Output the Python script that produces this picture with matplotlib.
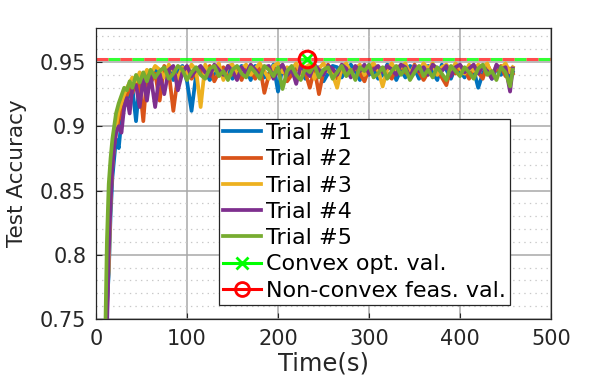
import matplotlib
matplotlib.use("Agg")
import matplotlib.pyplot as plt
from matplotlib.lines import Line2D
from matplotlib.ticker import MultipleLocator, FixedLocator, FuncFormatter

# time stamps (s)
t = [8, 10, 12, 14, 16, 18, 20, 22, 25, 28, 31, 34, 37, 40, 44, 48, 52, 56, 60,
     65, 70, 75, 80, 85, 90, 95, 100, 105, 110,
     115, 120, 125, 130, 135, 140, 145, 150, 155, 160,
     165, 170, 175, 180, 185, 190, 195, 200, 205, 210,
     215, 220, 225, 230, 235, 240, 245, 250, 255, 260,
     265, 270, 275, 280, 285, 290, 295, 300, 305, 310,
     315, 320, 325, 330, 335, 340, 345, 350, 355, 360,
     365, 370, 375, 380, 385, 390, 395, 400, 405, 410,
     415, 420, 425, 430, 435, 440, 445, 450, 455, 458]

trial1 = [0.60, 0.70, 0.76, 0.785, 0.83, 0.86, 0.875, 0.89, 0.883, 0.905, 0.915, 0.92, 0.926, 0.93, 0.904, 0.935, 0.93, 0.94, 0.933,
          0.945, 0.937, 0.940, 0.946, 0.936, 0.943, 0.947, 0.935, 0.912, 0.940,
          0.946, 0.943, 0.936, 0.941, 0.947, 0.938, 0.945, 0.937, 0.943, 0.947,
          0.944, 0.936, 0.947, 0.945, 0.938, 0.941, 0.948, 0.927, 0.946, 0.938,
          0.942, 0.947, 0.945, 0.937, 0.948, 0.940, 0.946, 0.935, 0.941, 0.947,
          0.946, 0.938, 0.944, 0.948, 0.943, 0.936, 0.947, 0.940, 0.945, 0.937,
          0.940, 0.948, 0.946, 0.936, 0.944, 0.938, 0.947, 0.945, 0.937, 0.943,
          0.947, 0.942, 0.936, 0.948, 0.944, 0.937, 0.946, 0.943, 0.938, 0.947,
          0.944, 0.930, 0.941, 0.947, 0.937, 0.945, 0.940, 0.948, 0.936, 0.942]

trial2 = [0.58, 0.68, 0.75, 0.81, 0.845, 0.87, 0.885, 0.895, 0.905, 0.912, 0.92, 0.924, 0.93, 0.926, 0.936, 0.932, 0.904, 0.94, 0.934,
          0.941, 0.920, 0.947, 0.942, 0.912, 0.939, 0.945, 0.946, 0.937, 0.943,
          0.944, 0.939, 0.947, 0.935, 0.942, 0.946, 0.938, 0.941, 0.946, 0.936,
          0.946, 0.943, 0.937, 0.947, 0.926, 0.940, 0.946, 0.941, 0.947, 0.935,
          0.940, 0.944, 0.947, 0.942, 0.930, 0.945, 0.925, 0.943, 0.948, 0.941,
          0.937, 0.943, 0.947, 0.940, 0.946, 0.941, 0.935, 0.945, 0.947, 0.943,
          0.944, 0.941, 0.937, 0.946, 0.947, 0.942, 0.939, 0.948, 0.942, 0.936,
          0.942, 0.947, 0.943, 0.938, 0.932, 0.946, 0.941, 0.947, 0.944, 0.937,
          0.946, 0.942, 0.937, 0.948, 0.941, 0.944, 0.947, 0.939, 0.945, 0.941]

trial3 = [0.62, 0.72, 0.77, 0.788, 0.84, 0.87, 0.888, 0.9, 0.912, 0.918, 0.925, 0.93, 0.934, 0.938, 0.935, 0.942, 0.938, 0.944, 0.94,
          0.947, 0.944, 0.938, 0.948, 0.943, 0.937, 0.946, 0.941, 0.948, 0.944,
          0.915, 0.948, 0.941, 0.944, 0.949, 0.936, 0.947, 0.948, 0.940, 0.945,
          0.948, 0.940, 0.945, 0.949, 0.943, 0.937, 0.947, 0.949, 0.942, 0.946,
          0.944, 0.949, 0.941, 0.946, 0.948, 0.937, 0.945, 0.949, 0.943, 0.940,
          0.930, 0.946, 0.949, 0.942, 0.945, 0.948, 0.940, 0.946, 0.949, 0.944,
          0.931, 0.944, 0.949, 0.943, 0.946, 0.949, 0.941, 0.947, 0.944, 0.949,
          0.945, 0.949, 0.940, 0.946, 0.948, 0.943, 0.949, 0.945, 0.941, 0.948,
          0.943, 0.948, 0.946, 0.949, 0.939, 0.947, 0.945, 0.949, 0.942, 0.946]

trial4 = [0.55, 0.66, 0.74, 0.80, 0.84, 0.868, 0.884, 0.895, 0.90, 0.895, 0.915, 0.922, 0.91, 0.93, 0.932, 0.915, 0.938, 0.92, 0.94,
          0.915, 0.941, 0.925, 0.944, 0.947, 0.928, 0.942, 0.947, 0.939, 0.944,
          0.947, 0.942, 0.939, 0.948, 0.944, 0.940, 0.947, 0.943, 0.936, 0.946,
          0.941, 0.948, 0.944, 0.939, 0.946, 0.947, 0.937, 0.944, 0.948, 0.940,
          0.945, 0.933, 0.947, 0.943, 0.939, 0.948, 0.944, 0.940, 0.947, 0.945,
          0.940, 0.948, 0.945, 0.938, 0.947, 0.943, 0.948, 0.941, 0.944, 0.947,
          0.942, 0.947, 0.944, 0.940, 0.948, 0.946, 0.938, 0.947, 0.943, 0.946,
          0.940, 0.948, 0.945, 0.943, 0.947, 0.939, 0.946, 0.948, 0.942, 0.945,
          0.948, 0.941, 0.946, 0.943, 0.937, 0.948, 0.944, 0.946, 0.927, 0.945]

trial5 = [0.62, 0.73, 0.81, 0.855, 0.875, 0.89, 0.90, 0.91, 0.918, 0.924, 0.93, 0.928, 0.935, 0.93, 0.94, 0.934, 0.942, 0.935, 0.944,
          0.938, 0.943, 0.946, 0.937, 0.941, 0.947, 0.944, 0.936, 0.942, 0.946,
          0.940, 0.937, 0.945, 0.947, 0.939, 0.943, 0.936, 0.944, 0.947, 0.941,
          0.938, 0.946, 0.942, 0.937, 0.947, 0.944, 0.939, 0.946, 0.929, 0.943,
          0.947, 0.940, 0.936, 0.945, 0.942, 0.948, 0.938, 0.944, 0.946, 0.937,
          0.942, 0.947, 0.939, 0.944, 0.936, 0.946, 0.943, 0.948, 0.938, 0.941,
          0.946, 0.937, 0.943, 0.947, 0.940, 0.945, 0.936, 0.942, 0.947, 0.939,
          0.944, 0.938, 0.946, 0.941, 0.936, 0.947, 0.943, 0.939, 0.946, 0.942,
          0.937, 0.945, 0.948, 0.940, 0.943, 0.936, 0.946, 0.942, 0.931, 0.944]

trials = [trial1, trial2, trial3, trial4, trial5]
labels = ["Trial #1", "Trial #2", "Trial #3", "Trial #4", "Trial #5"]
colors = ["#0072BD", "#D95319", "#EDB120", "#7E2F8E", "#77AC30"]

convex_val = 0.9523
nonconvex_val = 0.9523
marker_t = 232
ref_x = [0, 500]

plt.rcParams["font.family"] = "DejaVu Sans"
plt.rcParams["lines.scale_dashes"] = False

fig = plt.figure(figsize=(6.09, 3.81), dpi=100)
ax = fig.add_axes([0.1576, 0.1627, 0.7472, 0.7638])

for y, lab, c in zip(trials, labels, colors):
    ax.plot(t, y, color=c, lw=2.7, label=lab)

ax.plot(ref_x, [convex_val, convex_val], color="#00FF00", lw=2.2, linestyle=(8.6, (8.6, 8.6)), alpha=0.8)
ax.plot(ref_x, [nonconvex_val, nonconvex_val], color="#FF0000", lw=2.2, linestyle=(0, (8.6, 8.6)), alpha=0.7)
ax.plot([marker_t], [convex_val], marker="x", color="#00FF00", ms=8, mew=2, linestyle="none")
ax.plot([marker_t], [nonconvex_val], marker="o", color="#FF0000", mfc="none", ms=12, mew=2.2, linestyle="none")

ax.set_xlim(0, 500)
ax.set_ylim(0.75, 0.9765)
ax.xaxis.set_major_locator(MultipleLocator(100))
ax.yaxis.set_major_locator(FixedLocator([0.75, 0.8, 0.85, 0.9, 0.95]))
ax.yaxis.set_minor_locator(MultipleLocator(0.01))
ax.yaxis.set_major_formatter(FuncFormatter(lambda v, p: "%g" % round(v, 3)))

ax.grid(True, which="major", color="#a8a8a8", lw=1.1)
ax.grid(True, which="minor", axis="y", color="#c8c8c8", lw=0.9, linestyle=(0, (1, 3)))
ax.set_axisbelow(True)

ax.tick_params(which="both", direction="in", colors="#262626", labelsize=15, length=4, pad=7)
ax.tick_params(which="minor", length=0)
for s in ax.spines.values():
    s.set_color("#262626")
    s.set_linewidth(0.9)

ax.set_xlabel("Time(s)", fontsize=17.5, color="#262626", labelpad=2)
ax.set_ylabel("Test Accuracy", fontsize=15.5, color="#262626", labelpad=9)

handles = ax.get_lines()[:5]
handles = list(handles) + [
    Line2D([], [], color="#00FF00", lw=2.2, marker="x", ms=8, mew=2),
    Line2D([], [], color="#FF0000", lw=2.2, marker="o", mfc="none", ms=10, mew=2),
]
leg_labels = labels + ["Convex opt. val.", "Non-convex feas. val."]
leg = ax.legend(handles, leg_labels, loc="lower left", bbox_to_anchor=(0.27, 0.048),
                fontsize=16, frameon=True, fancybox=False, framealpha=1,
                edgecolor="#262626", handlelength=1.7, handletextpad=0.2,
                labelspacing=0.28, borderpad=0.2, borderaxespad=0)
leg.get_frame().set_linewidth(0.9)

fig.savefig("out.png", dpi=100)
